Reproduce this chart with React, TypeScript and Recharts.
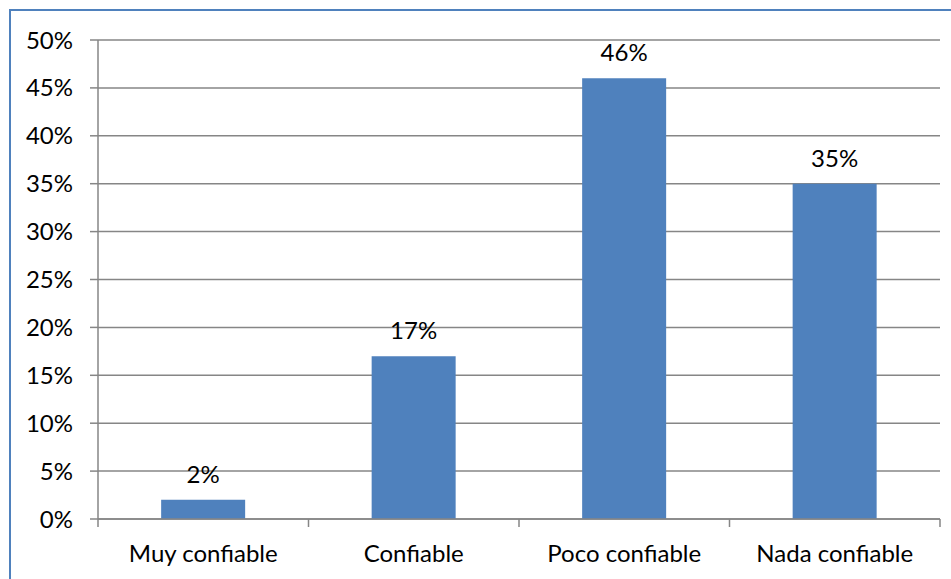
import { BarChart, Bar, XAxis, YAxis, CartesianGrid, LabelList } from 'recharts';

const categories = ['Muy confiable', 'Confiable', 'Poco confiable', 'Nada confiable'];
const values = [2, 17, 46, 35];
const yTicks = [0, 5, 10, 15, 20, 25, 30, 35, 40, 45, 50];

const data = categories.map((name, i) => ({ name, value: values[i] }));

const FONT = 'Lato, "Open Sans", sans-serif';
const GRID = '#868686';
const BAR = '#4F81BD';

// category ticks sit on the band edges, like Excel does
function CategoryTick(props: any) {
  const { x, y, payload, index, visibleTicksCount } = props;
  const half = payload?.offset ?? 0;
  const isLast = index === visibleTicksCount - 1;
  return (
    <g>
      <line x1={x - half} x2={x - half} y1={y} y2={y + 8} stroke={GRID} strokeWidth={1.5} />
      {isLast && (
        <line x1={x + half} x2={x + half} y1={y} y2={y + 8} stroke={GRID} strokeWidth={1.5} />
      )}
      <text
        x={x}
        y={y + 26}
        dy="0.71em"
        textAnchor="middle"
        fill="#000"
        fontSize={24}
        fontFamily={FONT}
      >
        {payload.value}
      </text>
    </g>
  );
}

export default function App() {
  return (
    <div
      style={{
        position: 'absolute',
        left: 0,
        top: 0,
        width: 951,
        height: 579,
        overflow: 'hidden',
        background: '#fff',
        fontFamily: FONT,
      }}
    >
      <div
        style={{
          position: 'absolute',
          left: 9,
          top: 9,
          width: 1000,
          height: 1000,
          borderLeft: `2px solid ${BAR}`,
          borderTop: `2px solid ${BAR}`,
        }}
      />
      <div style={{ position: 'absolute', left: 0, top: 0 }}>
        <BarChart
          width={951}
          height={579}
          data={data}
          margin={{ top: 40, right: 11, bottom: 0, left: 10 }}
          barCategoryGap="30%"
        >
          <CartesianGrid vertical={false} stroke={GRID} strokeWidth={1.5} />
          <XAxis
            dataKey="name"
            axisLine={{ stroke: GRID, strokeWidth: 1.5 }}
            tickLine={false}
            tickSize={0}
            tickMargin={0}
            height={60}
            interval={0}
            tick={<CategoryTick />}
          />
          <YAxis
            domain={[0, 50]}
            ticks={yTicks}
            tickFormatter={(v) => `${v}%`}
            width={88}
            tickSize={8}
            tickMargin={17}
            axisLine={{ stroke: GRID, strokeWidth: 1.5 }}
            tickLine={{ stroke: GRID, strokeWidth: 1.5 }}
            tick={{ fill: '#000', fontSize: 24, fontFamily: FONT }}
          />
          <Bar dataKey="value" fill={BAR} isAnimationActive={false}>
            <LabelList
              dataKey="value"
              position="top"
              offset={17}
              formatter={(v) => `${v}%`}
              style={{ fill: '#000', fontSize: 24, fontFamily: FONT }}
            />
          </Bar>
        </BarChart>
      </div>
    </div>
  );
}
